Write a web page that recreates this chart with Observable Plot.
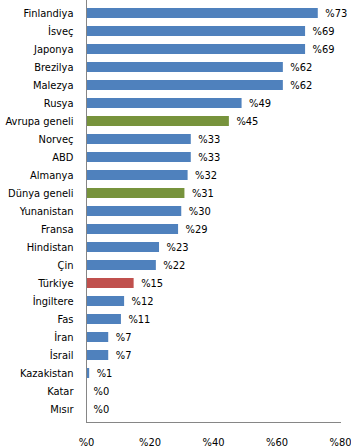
<!DOCTYPE html>
<html><head><meta charset="utf-8">
<script src="https://cdn.jsdelivr.net/npm/d3@7"></script>
<script src="https://cdn.jsdelivr.net/npm/@observablehq/plot@0.6"></script>
<style>body{margin:0;background:#fff}</style>
</head><body><div id="chart"></div>
<script>
const countries = ["Finlandiya","İsveç","Japonya","Brezilya","Malezya","Rusya","Avrupa geneli","Norveç","ABD","Almanya","Dünya geneli","Yunanistan","Fransa","Hindistan","Çin","Türkiye","İngiltere","Fas","İran","İsrail","Kazakistan","Katar","Mısır"];
const values = [73,69,69,62,62,49,45,33,33,32,31,30,29,23,22,15,12,11,7,7,1,0,0];
const groups = ["c","c","c","c","c","c","avg","c","c","c","avg","c","c","c","c","tr","c","c","c","c","c","c","c"];
const xTicks = [0,20,40,60,80];

const data = countries.map((name,i)=>({name, value:values[i], group:groups[i]}));
const colorMap = {c:"#4F81BD", avg:"#77933C", tr:"#C0504D"};

const chart = Plot.plot({
  width: 351, height: 448,
  marginLeft: 86, marginRight: 11, marginTop: 0, marginBottom: 26,
  style: {fontFamily: "'DejaVu Sans Condensed', 'DejaVu Sans', sans-serif", fontStretch: "condensed", fontSize: "11px", color: "black", background: "white"},
  x: {domain: [0,80]},
  y: {domain: countries, paddingInner: 0.45, paddingOuter: 0.225},
  marks: [
    Plot.barX(data, {y: "name", x: "value", fill: d => colorMap[d.group]}),
    Plot.text(data, {y: "name", x: "value", text: d => "%" + d.value, textAnchor: "start", dx: 7, fill: "black"}),
    Plot.axisX({ticks: xTicks, tickFormat: d => "%" + d, tickSize: 0, tickPadding: 16, label: null}),
    Plot.axisY({tickSize: 0, tickPadding: 13, label: null}),
    Plot.ruleX([0], {stroke: "#868686"}),
    Plot.frame({anchor: "bottom", stroke: "#868686"})
  ]
});
document.getElementById("chart").append(chart);
</script></body></html>
